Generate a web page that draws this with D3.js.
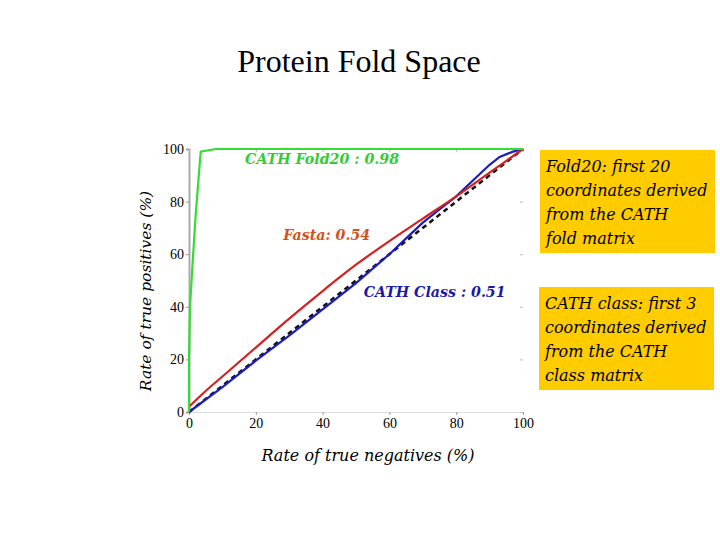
<!DOCTYPE html>
<html>
<head>
<meta charset="utf-8">
<script src="https://cdn.jsdelivr.net/npm/d3@7"></script>
<style>
  body { margin: 0; background: #fff; }
</style>
</head>
<body>
<div id="chart"></div>
<script>
// ROC curves (x = true negatives %, y = true positives %)
const foldX = [0, 0, 0.3, 1, 2, 3.5, 8, 100];
const foldY = [0, 20, 40, 55, 75, 99, 100, 100];
const fastaX = [0, 5, 10, 20, 30, 40, 50, 60, 70, 80, 90, 100];
const fastaY = [2, 8, 13.5, 24.5, 35.5, 46, 56, 65, 73.5, 82, 91, 100];
const classX = [0, 10, 20, 30, 40, 50, 60, 65, 70, 75, 80, 85, 90, 93, 97, 100];
const classY = [0, 9.5, 19.5, 29, 39, 49, 60, 66, 72, 77, 82, 88, 94, 97, 99, 100];
const diagX = [0, 100];
const diagY = [0, 100];
const ticks = [0, 20, 40, 60, 80, 100];

const serif = "'Liberation Serif', 'Times New Roman', serif";
const slab = "'DejaVu Serif', serif";

const width = 720, height = 540;
const margin = { top: 149, right: 197, bottom: 128, left: 189 };
const w = width - margin.left - margin.right;
const h = height - margin.top - margin.bottom;

const svg = d3.select("#chart").append("svg")
  .attr("width", width)
  .attr("height", height);

svg.append("text")
  .attr("x", 359).attr("y", 72)
  .attr("text-anchor", "middle")
  .attr("font-family", serif)
  .style("font-size", "32px")
  .text("Protein Fold Space");

const x = d3.scaleLinear().domain([0, 100]).range([0, w]);
const y = d3.scaleLinear().domain([0, 100]).range([h, 0]);

const g = svg.append("g").attr("transform", `translate(${margin.left},${margin.top})`);

// axes
const xAxis = g.append("g")
  .attr("transform", `translate(0,${h})`)
  .call(d3.axisBottom(x).tickValues(ticks).tickSize(3).tickPadding(3));
const yAxis = g.append("g")
  .call(d3.axisLeft(y).tickValues(ticks).tickSize(3).tickPadding(2));
[xAxis, yAxis].forEach(a => {
  a.attr("font-family", serif).attr("font-size", 14);
  a.selectAll("text").attr("fill", "#000");
  a.selectAll("line").attr("stroke", "#999");
});
xAxis.select(".domain").attr("stroke", "#ddd");
yAxis.select(".domain").attr("stroke", "#aaa").attr("stroke-width", 2);

// faint ticks on top and right sides
g.append("g").call(d3.axisTop(x).tickValues(ticks).tickSize(-3).tickFormat(""))
  .call(a => a.select(".domain").remove())
  .selectAll("line").attr("stroke", "#bbb");
g.append("g").attr("transform", `translate(${w},0)`)
  .call(d3.axisRight(y).tickValues(ticks).tickSize(-3).tickFormat(""))
  .call(a => a.select(".domain").remove())
  .selectAll("line").attr("stroke", "#bbb");

const line = d3.line().x(d => x(d[0])).y(d => y(d[1]));
const zip = (a, b) => a.map((v, i) => [v, b[i]]);

g.append("path").datum(zip(diagX, diagY))
  .attr("d", line).attr("fill", "none")
  .attr("stroke", "#111").attr("stroke-width", 2.5).attr("stroke-dasharray", "5,4");
g.append("path").datum(zip(classX, classY))
  .attr("d", line).attr("fill", "none")
  .attr("stroke", "#1c1cc0").attr("stroke-width", 2.2);
g.append("path").datum(zip(fastaX, fastaY))
  .attr("d", d3.line().curve(d3.curveMonotoneX).x(d => x(d[0])).y(d => y(d[1])))
  .attr("fill", "none")
  .attr("stroke", "#d42020").attr("stroke-width", 2.2);
g.append("path").datum(zip(foldX, foldY))
  .attr("d", line).attr("fill", "none")
  .attr("stroke", "#33dd33").attr("stroke-width", 2.2);

// curve labels
const labels = [
  { t: "CATH Fold20 : 0.98", x: 16.8, y: 94.3, c: "#33cc33" },
  { t: "Fasta: 0.54", x: 28.2, y: 65.3, c: "#d2521e" },
  { t: "CATH Class : 0.51", x: 52.3, y: 43.8, c: "#1a1aa8" }
];
g.selectAll(".lbl").data(labels).join("text")
  .attr("class", "lbl")
  .attr("x", d => x(d.x)).attr("y", d => y(d.y))
  .attr("fill", d => d.c)
  .attr("font-family", slab)
  .style("font-size", "14.2px").style("font-weight", "bold").style("font-style", "italic")
  .text(d => d.t);

// axis titles
svg.append("text")
  .attr("transform", "translate(151,291) rotate(-90)")
  .attr("text-anchor", "middle")
  .attr("font-family", slab)
  .style("font-size", "15.5px").style("font-style", "italic")
  .text("Rate of true positives (%)");
svg.append("text")
  .attr("x", 368).attr("y", 461)
  .attr("text-anchor", "middle")
  .attr("font-family", slab)
  .style("font-size", "16px").style("font-style", "italic")
  .text("Rate of true negatives (%)");

// yellow notes
const notes = [
  { x: 540, y: 150, lines: ["Fold20: first 20", "coordinates derived", "from the CATH", "fold matrix"] },
  { x: 539, y: 287, lines: ["CATH class: first 3", "coordinates derived", "from the CATH", "class matrix"] }
];
notes.forEach(n => {
  const ng = svg.append("g").attr("transform", `translate(${n.x},${n.y})`);
  ng.append("rect").attr("width", 175).attr("height", 103).attr("fill", "#ffcc00");
  ng.selectAll("text").data(n.lines).join("text")
    .attr("x", 6).attr("y", (d, i) => 22 + i * 24)
    .attr("font-family", slab)
    .style("font-size", "16px").style("font-style", "italic")
    .text(d => d);
});
</script>
</body>
</html>
